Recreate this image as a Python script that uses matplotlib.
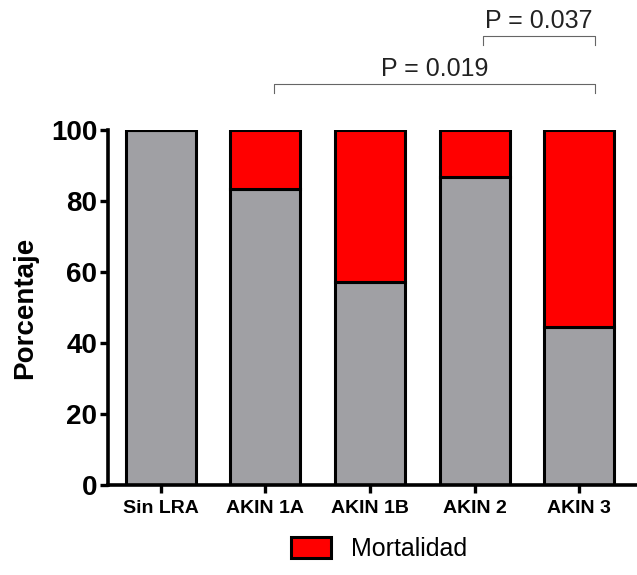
import matplotlib
matplotlib.use("Agg")
import matplotlib.pyplot as plt
from matplotlib.patches import Patch

plt.rcParams['font.family'] = ['Liberation Sans', 'DejaVu Sans']

groups = ["Sin LRA", "AKIN 1A", "AKIN 1B", "AKIN 2", "AKIN 3"]
survival = [100.0, 83.3, 57.1, 86.7, 44.4]
mortality = [0.0, 16.7, 42.9, 13.3, 55.6]

# brackets: (x start, x end, level, label)
brackets = [
    (1.08, 4.15, 113, "P = 0.019"),
    (3.08, 4.15, 126.5, "P = 0.037"),
]

GREY = "#a0a0a4"
RED = "#ff0000"

fig = plt.figure(figsize=(6.37, 5.75), dpi=100)
ax = fig.add_axes([0.170, 0.1565, 0.830, 0.6175])

x = list(range(len(groups)))
ax.bar(x, survival, width=0.67, color=GREY, edgecolor="black", linewidth=2.2, zorder=2)
ax.bar(x, mortality, width=0.67, bottom=survival, color=RED, edgecolor="black",
       linewidth=2.2, zorder=2)

ax.set_xlim(-0.5, 4.55)
ax.set_ylim(0, 100)
ax.set_yticks([0, 20, 40, 60, 80, 100])
ax.set_xticks(x)
ax.set_xticklabels(groups, fontsize=14, fontweight="bold")
for lbl in ax.get_yticklabels():
    lbl.set_fontsize(20)
    lbl.set_fontweight("bold")
ax.tick_params(axis="both", width=2.4, length=6, direction="out", pad=2)
ax.tick_params(axis="x", pad=5)

ax.spines["top"].set_visible(False)
ax.spines["right"].set_visible(False)
ax.spines["left"].set_linewidth(2.6)
ax.spines["bottom"].set_linewidth(2.6)

ax.set_ylabel("Porcentaje", fontsize=20, fontweight="bold", labelpad=9)

for x0, x1, lvl, txt in brackets:
    ax.plot([x0, x0, x1, x1], [lvl - 2.5, lvl, lvl, lvl - 2.5], color="#666666",
            linewidth=0.8, clip_on=False)
    ax.text((x0 + x1) / 2, lvl + 0.8, txt, ha="center", va="bottom", fontsize=18,
            color="#222222", clip_on=False)

handles = [Patch(facecolor=RED, edgecolor="black", linewidth=2.2, label="Mortalidad")]
fig.legend(handles=handles, loc="lower center", bbox_to_anchor=(0.595, -0.015), frameon=False,
           fontsize=18, handlelength=1.6, handleheight=0.9, handletextpad=0.8)

fig.savefig("out.png", dpi=100)
